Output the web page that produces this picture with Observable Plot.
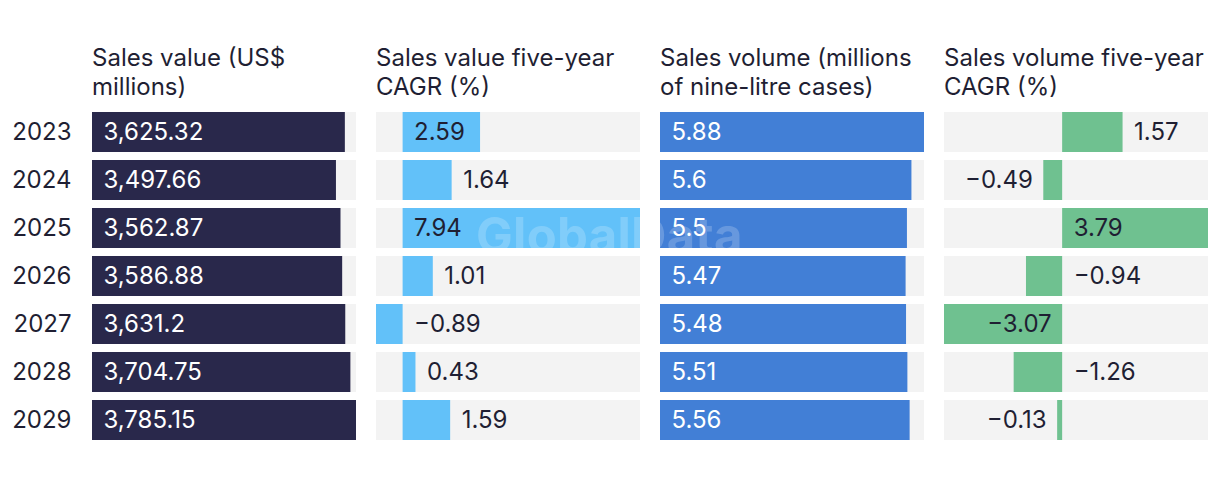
<!DOCTYPE html>
<html><head><meta charset="utf-8">
<script src="https://cdn.jsdelivr.net/npm/d3@7"></script>
<script src="https://cdn.jsdelivr.net/npm/@observablehq/plot@0.6"></script>
<style>
body{margin:0;background:#fff;font-family:Inter, "Noto Sans", sans-serif;}
#chart{position:relative;width:1220px;height:482px;}
.pnl{position:absolute;top:0;width:300px;height:482px;}
.ttl{position:absolute;top:43px;font-size:24px;line-height:29px;color:#1f1f33;white-space:nowrap;}
.plotbox{position:absolute;top:106px;left:0;}
.wm{position:absolute;left:476px;top:206px;font-size:49px;font-weight:700;color:rgba(255,255,255,0.2);letter-spacing:0.3px;pointer-events:none;white-space:nowrap;}
#err{position:absolute;left:0;top:300px;font-size:12px;color:red;}
</style></head><body><div id="chart"></div><div id="err"></div>
<script>
const years = ["2023", "2024", "2025", "2026", "2027", "2028", "2029"];
const salesValue = [3625.32, 3497.66, 3562.87, 3586.88, 3631.2, 3704.75, 3785.15];
const salesValueCagr = [2.59, 1.64, 7.94, 1.01, -0.89, 0.43, 1.59];
const salesVolume = [5.88, 5.6, 5.5, 5.47, 5.48, 5.51, 5.56];
const salesVolumeCagr = [1.57, -0.49, 3.79, -0.94, -3.07, -1.26, -0.13];
const titles = [
  ["Sales value (US$", "millions)"],
  ["Sales value five-year", "CAGR (%)"],
  ["Sales volume (millions", "of nine-litre cases)"],
  ["Sales volume five-year", "CAGR (%)"]
];
const series = [salesValue, salesValueCagr, salesVolume, salesVolumeCagr];
const barColors = ["#29284b", "#62c1f9", "#427fd6", "#6fc190"];
const insideFills = ["#ffffff", "#1f1f33", "#ffffff", "#1f1f33"];

const DARK = "#1f1f33";
const GRAY = "#f3f3f3";
const FS = 24;
const W = 264, GAP = 20, LEFT0 = 92;
const fmt = d3.format(",");
const ctx = document.createElement("canvas").getContext("2d");
ctx.font = FS + "px Inter";
const chart = document.getElementById("chart");

try {
series.forEach((values, i) => {
  const ml = i === 0 ? LEFT0 : 0;
  const left = i === 0 ? 0 : LEFT0 + i * (W + GAP);
  const lo = Math.min(0, d3.min(values)), hi = d3.max(values);
  const xs = d3.scaleLinear([lo, hi], [0, W]);
  const data = years.map((y, j) => ({year: y, v: values[j], lo: lo, hi: hi, zero: 0, label: fmt(values[j])}));
  const startIn = [], startOut = [], endIn = [], endOut = [];
  data.forEach(d => {
    const need = ctx.measureText(d.label).width + 22;
    const z = xs(0), e = xs(d.v);
    if (d.v >= 0) {
      if (e - z >= need) startIn.push({...d, ax: 0});
      else if (W - e >= need) startOut.push({...d, ax: d.v});
      else endOut.push({...d, ax: 0});
    } else {
      if (z - e >= need) endIn.push({...d, ax: 0});
      else if (e >= need) endOut.push({...d, ax: d.v});
      else startOut.push({...d, ax: 0});
    }
  });

  const plot = Plot.plot({
    width: ml + W,
    height: 376,
    marginLeft: ml, marginRight: 0, marginTop: 6, marginBottom: 42,
    style: {fontFamily: "Inter, sans-serif", fontSize: FS + "px", color: DARK},
    x: {domain: [lo, hi], axis: null},
    y: {domain: years, paddingInner: 1/6, paddingOuter: 0, axis: i === 0 ? "left" : null, tickSize: 0, tickPadding: 21, label: null},
    marks: [
      Plot.barX(data, {y: "year", x1: "lo", x2: "hi", fill: GRAY}),
      Plot.barX(data, {y: "year", x1: "zero", x2: "v", fill: barColors[i]}),
      Plot.text(startIn, {y: "year", x: "ax", text: "label", dx: 11, textAnchor: "start", fill: insideFills[i], fontSize: FS}),
      Plot.text(endIn, {y: "year", x: "ax", text: "label", dx: -11, textAnchor: "end", fill: insideFills[i], fontSize: FS}),
      Plot.text(startOut, {y: "year", x: "ax", text: "label", dx: 11, textAnchor: "start", fill: DARK, fontSize: FS}),
      Plot.text(endOut, {y: "year", x: "ax", text: "label", dx: -11, textAnchor: "end", fill: DARK, fontSize: FS})
    ]
  });

  const panel = document.createElement("div");
  panel.className = "pnl";
  panel.style.left = left + "px";
  panel.style.width = (ml + W) + "px";
  const t = document.createElement("div");
  t.className = "ttl";
  t.style.left = ml + "px";
  t.innerHTML = titles[i].join("<br>");
  panel.appendChild(t);
  const p = document.createElement("div");
  p.className = "plotbox";
  p.appendChild(plot);
  panel.appendChild(p);
  chart.appendChild(panel);
});
} catch (e) { document.getElementById("err").textContent = String(e && e.stack || e); }

const wm = document.createElement("div");
wm.className = "wm";
wm.textContent = "GlobalData";
chart.appendChild(wm);
</script>
</body></html>
